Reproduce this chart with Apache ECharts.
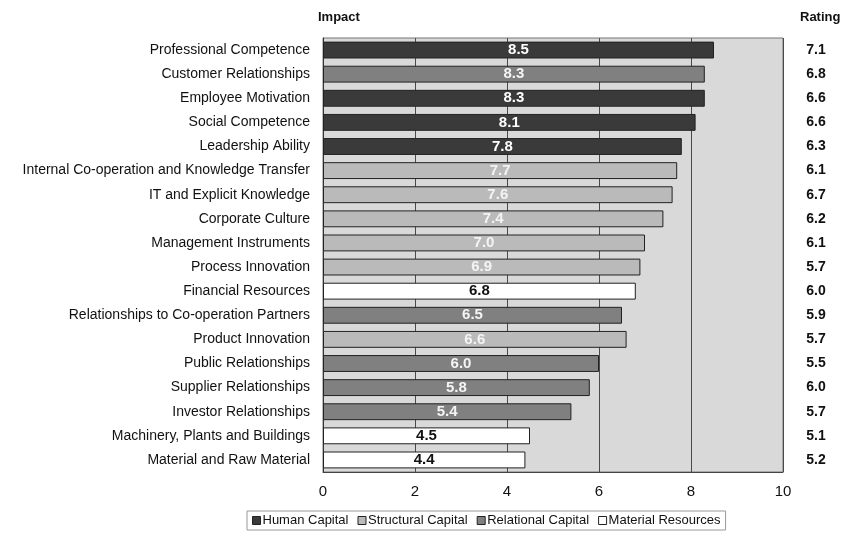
<!DOCTYPE html>
<html>
<head>
<meta charset="utf-8">
<script src="https://cdn.jsdelivr.net/npm/echarts@6/dist/echarts.min.js"></script>
<style>
  html, body { margin: 0; padding: 0; background: #fff; }
  #chart { width: 844px; height: 536px; }
</style>
</head>
<body>
<div id="chart"></div>
<script>
// Intellectual capital factors: impact (bar length) and rating (right column)
const categories = [
  'Professional Competence', 'Customer Relationships', 'Employee Motivation',
  'Social Competence', 'Leadership Ability', 'Internal Co-operation and Knowledge Transfer',
  'IT and Explicit Knowledge', 'Corporate Culture', 'Management Instruments',
  'Process Innovation', 'Financial Resources', 'Relationships to Co-operation Partners',
  'Product Innovation', 'Public Relationships', 'Supplier Relationships',
  'Investor Relationships', 'Machinery, Plants and Buildings', 'Material and Raw Material'
];
const impact = [8.5, 8.3, 8.3, 8.1, 7.8, 7.7, 7.6, 7.4, 7.0, 6.9, 6.8, 6.5, 6.6, 6.0, 5.8, 5.4, 4.5, 4.4];
const rating = ['7.1', '6.8', '6.6', '6.6', '6.3', '6.1', '6.7', '6.2', '6.1', '5.7', '6.0', '5.9', '5.7', '5.5', '6.0', '5.7', '5.1', '5.2'];
const group = [
  'Human Capital', 'Relational Capital', 'Human Capital', 'Human Capital', 'Human Capital',
  'Structural Capital', 'Structural Capital', 'Structural Capital', 'Structural Capital',
  'Structural Capital', 'Material Resources', 'Relational Capital', 'Structural Capital',
  'Relational Capital', 'Relational Capital', 'Relational Capital', 'Material Resources',
  'Material Resources'
];
const groupNames = ['Human Capital', 'Structural Capital', 'Relational Capital', 'Material Resources'];
const xTicks = [0, 2, 4, 6, 8, 10];

const FONT = 'Liberation Sans, Arial, sans-serif';
const groupStyle = {
  'Human Capital':      { fill: '#3a3a3a', text: '#ffffff' },
  'Structural Capital': { fill: '#bababa', text: '#f4f4f4' },
  'Relational Capital': { fill: '#808080', text: '#f4f4f4' },
  'Material Resources': { fill: '#ffffff', text: '#111111' }
};

const series = groupNames.map(name => ({
  name: name,
  type: 'bar',
  stack: 'impact',
  barWidth: '70%',
  data: impact.map((v, i) => group[i] === name ? v : '-'),
  itemStyle: { color: groupStyle[name].fill, borderColor: '#222', borderWidth: 1 },
  label: {
    show: true,
    position: 'inside',
    color: groupStyle[name].text,
    fontFamily: FONT,
    fontWeight: 'bold',
    fontSize: 15,
    formatter: p => Number(p.value).toFixed(1)
  }
}));

const chart = echarts.init(document.getElementById('chart'));
chart.setOption({
  animation: false,
  backgroundColor: '#fff',
  textStyle: { fontFamily: FONT },
  grid: {
    left: 323, right: 61, top: 38, bottom: 64,
    show: true, backgroundColor: '#d9d9d9', borderColor: '#777', borderWidth: 1
  },
  legend: {
    data: groupNames,
    bottom: 6,
    left: 247,
    icon: 'rect',
    itemWidth: 8,
    itemHeight: 8,
    itemGap: 9,
    padding: [3, 5],
    borderColor: '#999',
    borderWidth: 1,
    textStyle: { fontSize: 13, color: '#111', padding: [0, 0, 0, -3] },
    itemStyle: { borderColor: '#222', borderWidth: 1 }
  },
  graphic: [
    { type: 'text', left: 318, top: 11, style: { text: 'Impact', font: 'bold 13px ' + FONT, fill: '#111' } },
    { type: 'text', left: 800, top: 11, style: { text: 'Rating', font: 'bold 13px ' + FONT, fill: '#111' } }
  ],
  xAxis: {
    type: 'value',
    min: xTicks[0],
    max: xTicks[xTicks.length - 1],
    interval: 2,
    axisLine: { show: true, lineStyle: { color: '#444' } },
    axisTick: { show: false },
    axisLabel: { fontSize: 15, color: '#111', margin: 12 },
    splitLine: { show: true, lineStyle: { color: '#4a4a4a', width: 1 } }
  },
  yAxis: [
    {
      type: 'category',
      data: categories,
      inverse: true,
      axisLine: { show: true, lineStyle: { color: '#333' } },
      axisTick: { show: false },
      axisLabel: { fontSize: 14, color: '#111', margin: 13 }
    },
    {
      type: 'category',
      data: rating,
      inverse: true,
      position: 'right',
      axisLine: { show: false },
      axisTick: { show: false },
      axisLabel: { fontSize: 14, fontWeight: 'bold', color: '#111', align: 'center', margin: 33 }
    }
  ],
  series: series
});
</script>
</body>
</html>
